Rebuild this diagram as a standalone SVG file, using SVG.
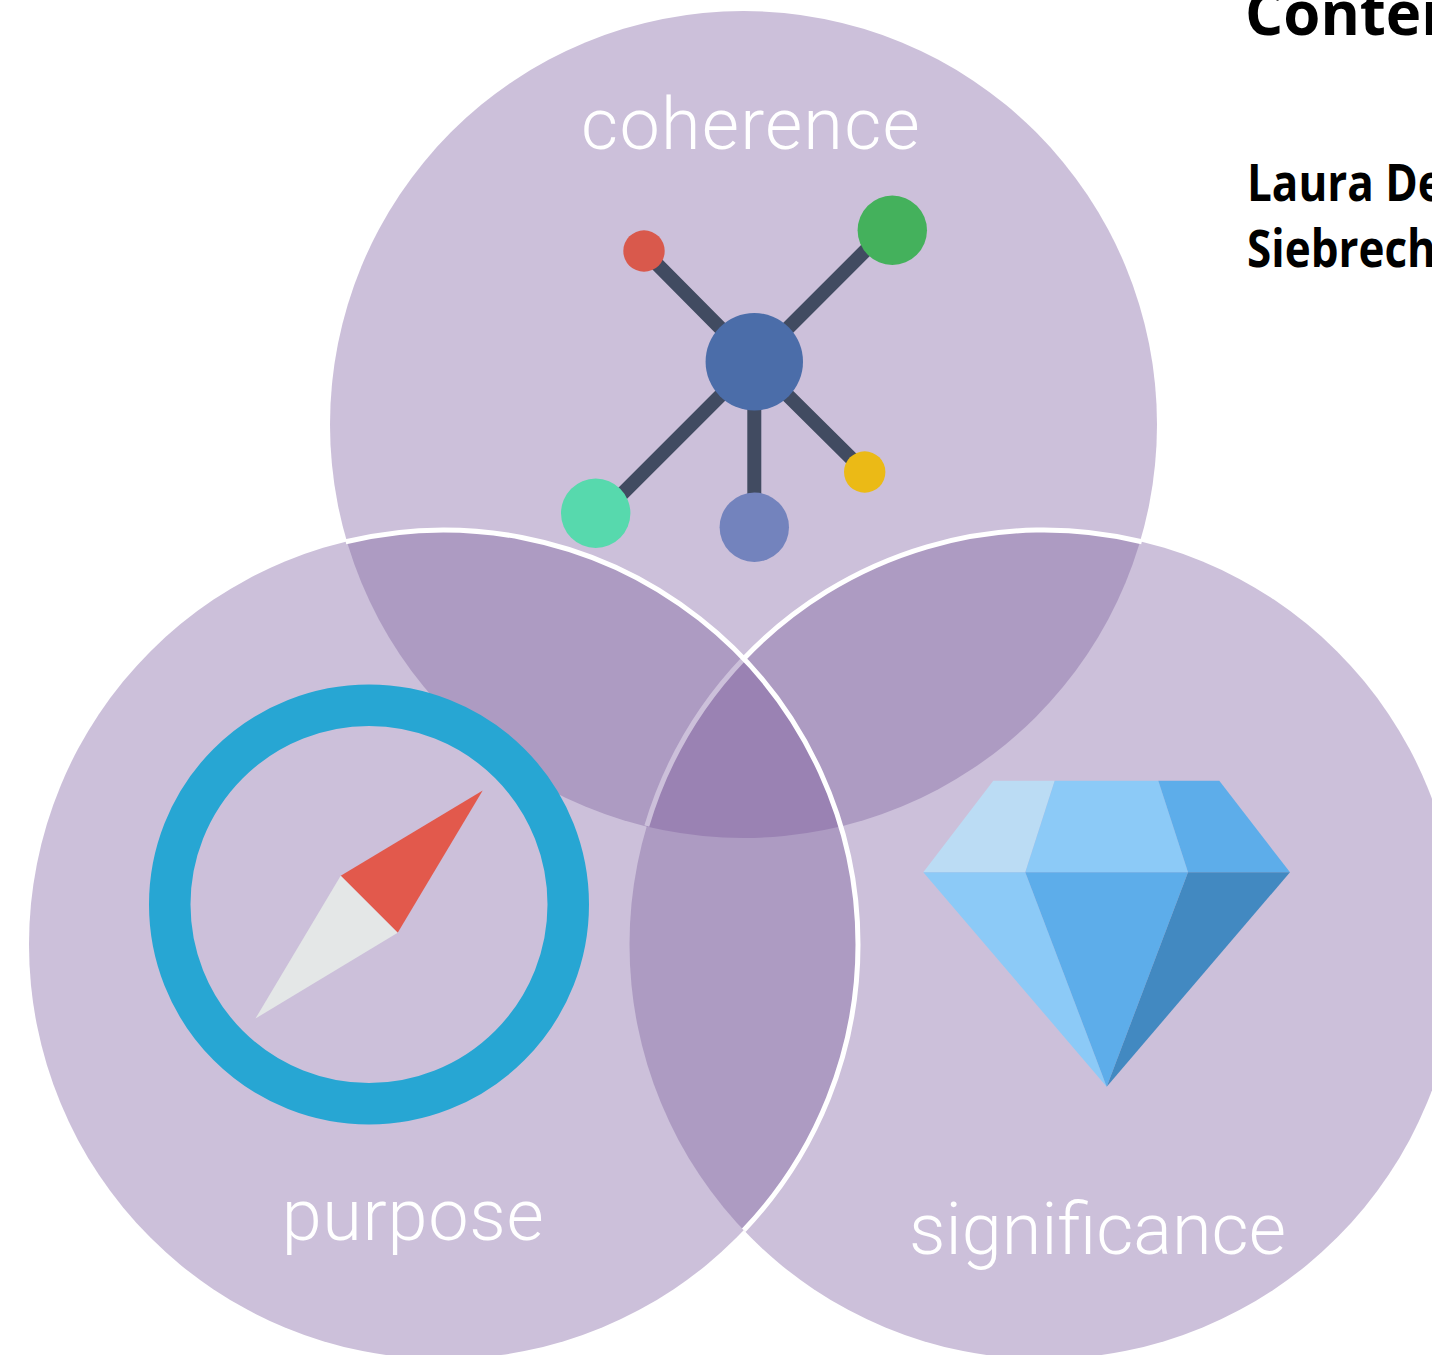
<svg xmlns="http://www.w3.org/2000/svg" width="1432" height="1355" viewBox="0 0 1432 1355">
<style>
.label{font-family:"Roboto","Liberation Sans",sans-serif;font-weight:300;fill:#fff;font-size:72px}
.title{font-family:"Open Sans","Liberation Sans",sans-serif;font-weight:700;fill:#000}
.link{stroke:#414b61;stroke-width:14;fill:none}
.edge{fill:none;stroke:#fff;stroke-width:5}
</style>
<defs>
<clipPath id="cTop"><circle cx="743.5" cy="424.5" r="413.5"/></clipPath>
<clipPath id="cLeft"><circle cx="443.5" cy="944.5" r="414.5"/></clipPath>
<clipPath id="cRight"><circle cx="1044" cy="944.5" r="414.5"/></clipPath>
</defs>
<rect width="1432" height="1355" fill="#fff"/>
<g id="venn">
<circle cx="743.5" cy="424.5" r="413.5" fill="#ccc0da"/>
<circle cx="443.5" cy="944.5" r="414.5" fill="#ccc0da"/>
<circle cx="1044" cy="944.5" r="414.5" fill="#ccc0da"/>
<g clip-path="url(#cTop)"><circle cx="443.5" cy="944.5" r="414.5" fill="#ad9bc2"/><circle cx="1044" cy="944.5" r="414.5" fill="#ad9bc2"/></g>
<g clip-path="url(#cLeft)"><circle cx="1044" cy="944.5" r="414.5" fill="#ad9bc2"/></g>
<g clip-path="url(#cTop)"><g clip-path="url(#cLeft)"><circle cx="1044" cy="944.5" r="414.5" fill="#9a82b3"/></g></g>
<path d="M743.750 658.700A414.500 414.500 0 0 0 646.800 826" fill="none" stroke="#ccc0da" stroke-width="5"/>
<path class="edge" d="M345.700 541.700A414.500 414.500 0 0 1 858 944.500A414.500 414.500 0 0 1 743.750 1230.300"/>
<path class="edge" d="M743.750 658.700A414.500 414.500 0 0 1 1141.800 541.700"/>
</g>
<g id="coherence">
<text class="label" x="751" y="149" text-anchor="middle" letter-spacing="1.200">coherence</text>
<path class="link" d="M644 251L754 362M880 236L754 362M600 516L754 362M754.300 527V362M865 472L754 362"/>
<circle cx="754.300" cy="361.700" r="48.700" fill="#4b6da9"/>
<circle cx="644" cy="251" r="20.700" fill="#d9594c"/>
<circle cx="892.300" cy="230.300" r="34.700" fill="#44b15c"/>
<circle cx="595.700" cy="513.300" r="34.700" fill="#57d9ad"/>
<circle cx="754.300" cy="527.300" r="34.700" fill="#7383bd"/>
<circle cx="864.700" cy="472" r="20.700" fill="#ebba16"/>
</g>
<g id="purpose">
<circle cx="369" cy="904.500" r="199.250" fill="none" stroke="#27a6d3" stroke-width="41.500"/>
<path d="M482.700 790.500L340.700 875.700L397.700 932.700Z" fill="#e2594c"/>
<path d="M255.500 1018.500L340.700 875.700L397.700 932.700Z" fill="#e4e7e7"/>
<text class="label" x="413" y="1240" text-anchor="middle" letter-spacing="0.700">purpose</text>
</g>
<g id="significance">
<path d="M923.300 872.300L993.300 780.700H1054.700L1025.300 872.300Z" fill="#bbdcf4"/>
<path d="M1025.300 872.300L1054.700 780.700H1158.300L1188 872.300Z" fill="#8ccaf7"/>
<path d="M1188 872.300L1158.300 780.700H1219.300L1290 872.300Z" fill="#5dadea"/>
<path d="M923.300 872.300H1025.300L1106.700 1086.700Z" fill="#8ccaf7"/>
<path d="M1025.300 872.300H1188L1106.700 1086.700Z" fill="#5dadea"/>
<path d="M1188 872.300H1290L1106.700 1086.700Z" fill="#4289c1"/>
<text class="label" x="1097.500" y="1254" text-anchor="middle">significance</text>
</g>
<g id="caption">
<text class="title" font-size="60" transform="translate(1245 35)">Conten</text>
<text class="title" font-size="44" transform="translate(1247 200.500) scale(1 1.18)">Laura De</text>
<text class="title" font-size="44" transform="translate(1247 266.500) scale(1 1.18)">Siebrech</text>
</g>
</svg>
